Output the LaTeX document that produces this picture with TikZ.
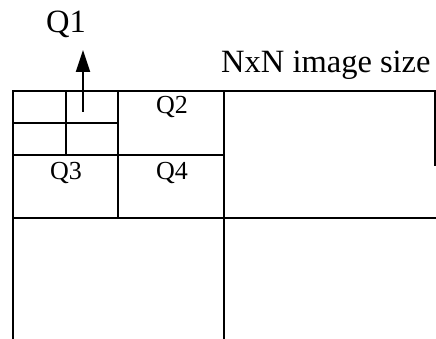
\documentclass[tikz,border=0pt]{standalone}
\usepackage{fontspec}
\setmainfont{Liberation Serif}
\usetikzlibrary{arrows.meta}
\begin{document}
\begin{tikzpicture}[x=1pt,y=-1pt,
  grid/.style={line width=1.8pt,line cap=rect},
  biglabel/.style={font=\fontsize{32.5}{32.5}\selectfont,inner sep=0pt,anchor=base},
  smalllabel/.style={font=\fontsize{26}{26}\selectfont,inner sep=0pt,anchor=base}]
\useasboundingbox (0,0) rectangle (436,339);
% outer lines
\draw[grid] (13,339) -- (13,91) -- (436,91);
\draw[grid] (435,91) -- (435,165);
\draw[grid] (224,91) -- (224,339);
\draw[grid] (13,218) -- (436,218);
% quadrant lines
\draw[grid] (118,91) -- (118,218);
\draw[grid] (13,155) -- (224,155);
% Q1 subdivision
\draw[grid] (66,91) -- (66,155);
\draw[grid] (13,123) -- (118,123);
% arrow
\coordinate (arrstart) at (83,112);
\coordinate (arrend) at (83,50);
\draw[line width=2pt,-{Triangle[length=22pt,width=14pt]}] (arrstart) -- (arrend);
% labels
\node[biglabel] (q1) at (66,33) {Q1};
\node[biglabel,anchor=base west] (nxn) at (221,73) {NxN image size};
\node[smalllabel] (q2) at (172,114) {Q2};
\node[smalllabel] (q3) at (66,180) {Q3};
\node[smalllabel] (q4) at (172,180) {Q4};
\end{tikzpicture}
\end{document}
